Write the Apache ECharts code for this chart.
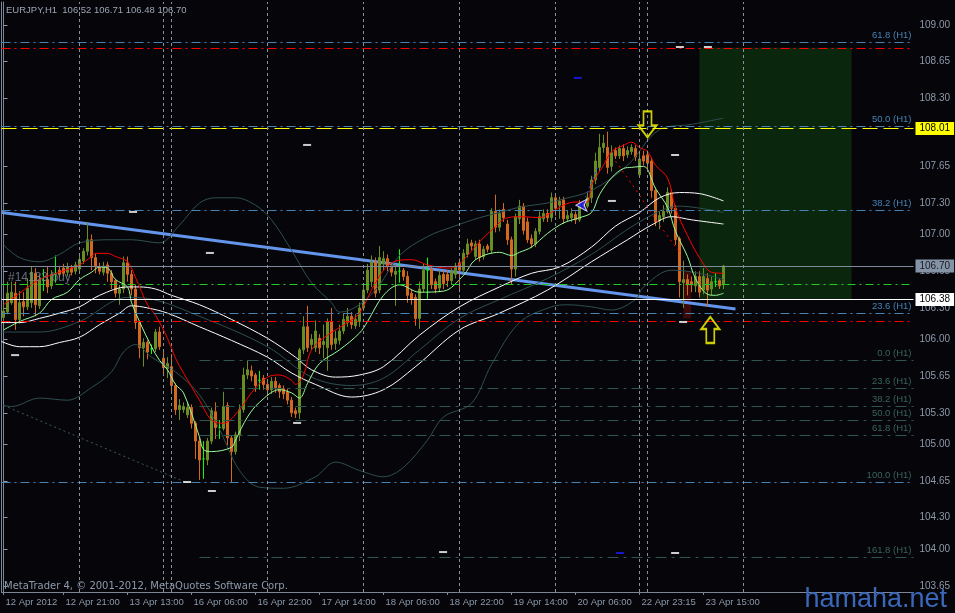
<!DOCTYPE html>
<html><head><meta charset="utf-8">
<script src="https://cdn.jsdelivr.net/npm/echarts@6/dist/echarts.min.js"></script>
<style>html,body{margin:0;padding:0;background:#06060a;}#c{width:955px;height:613px;}</style>
</head><body><div id="c"></div>
<script>
// ---------- DATA ----------
const opens = [106.21,106.26,106.35,106.44,106.19,106.36,106.31,106.35,106.63,106.32,106.56,106.57,106.51,106.63,106.66,106.68,106.64,106.68,106.65,106.67,
106.75,106.84,106.95,106.78,106.69,106.64,106.71,106.63,106.56,106.44,106.48,106.73,106.62,106.48,106.16,105.92,105.97,105.91,105.91,106.07,
105.82,105.72,105.74,105.56,105.33,105.33,105.28,105.35,105.20,105.03,104.86,104.85,105.03,105.31,105.16,105.15,105.37,105.06,104.93,105.09,
105.33,105.66,105.70,105.66,105.61,105.63,105.57,105.52,105.60,105.56,105.53,105.50,105.42,105.32,105.30,105.90,106.12,105.95,105.92,106.01,
105.95,105.92,106.17,105.96,105.99,106.08,106.16,106.22,106.13,106.17,106.30,106.47,106.55,106.74,106.47,106.72,106.77,106.70,106.62,106.65,
106.66,106.60,106.44,106.40,106.20,106.48,106.66,106.67,106.55,106.49,106.62,106.62,106.56,106.62,106.73,106.66,106.81,106.92,106.79,106.91,
106.79,106.89,106.85,107.22,107.07,107.24,107.10,106.95,106.67,107.15,107.27,107.12,106.96,106.91,107.03,107.15,107.20,107.16,107.35,107.28,
107.33,107.15,107.16,107.19,107.14,107.30,107.27,107.35,107.52,107.64,107.83,107.83,107.65,107.80,107.75,107.82,107.76,107.79,107.82,107.57,
107.75,107.76,107.70,107.42,107.13,107.17,107.22,107.40,107.25,106.96,106.54,106.57,106.55,106.51,106.60,106.47,106.58,106.48,106.55,106.56,
106.52];
const closes = [106.27,106.44,106.45,106.19,106.35,106.31,106.49,106.64,106.33,106.57,106.56,106.50,106.62,106.63,106.62,106.63,106.69,106.64,106.71,106.76,
106.84,106.95,106.78,106.69,106.65,106.70,106.63,106.55,106.44,106.48,106.73,106.62,106.48,106.16,105.92,105.97,105.88,105.91,106.07,105.93,
105.73,105.77,105.56,105.33,105.37,105.36,105.35,105.20,105.03,104.85,104.86,105.03,105.32,105.16,105.16,105.36,105.06,104.93,105.09,105.33,
105.66,105.71,105.65,105.56,105.61,105.57,105.52,105.60,105.54,105.50,105.48,105.42,105.30,105.29,105.90,106.12,105.92,106.00,106.08,105.92,
105.98,106.17,105.95,106.01,106.08,106.19,106.22,106.14,106.19,106.30,106.47,106.66,106.74,106.44,106.78,106.77,106.70,106.64,106.65,106.65,
106.60,106.42,106.38,106.20,106.48,106.66,106.66,106.52,106.48,106.61,106.53,106.56,106.65,106.70,106.66,106.82,106.91,106.89,106.91,106.78,
106.86,106.86,107.22,107.07,107.20,107.16,106.95,106.67,107.17,107.27,107.04,106.95,106.91,107.03,107.17,107.20,107.16,107.35,107.25,107.32,
107.15,107.18,107.20,107.14,107.30,107.27,107.35,107.52,107.70,107.83,107.87,107.64,107.78,107.75,107.82,107.75,107.80,107.83,107.74,107.72,
107.70,107.68,107.42,107.12,107.18,107.22,107.40,107.25,106.95,106.55,106.57,106.52,106.52,106.60,106.45,106.60,106.47,106.55,106.55,106.51,
106.70];
const lows = [106.16,106.24,106.33,106.09,106.15,106.22,106.28,106.30,106.22,106.29,106.46,106.44,106.48,106.54,106.59,106.60,106.60,106.61,106.62,106.64,
106.72,106.80,106.66,106.63,106.62,106.61,106.55,106.48,106.40,106.33,106.44,106.55,106.42,106.10,105.82,105.74,105.81,105.86,105.88,105.90,
105.65,105.63,105.50,105.28,105.23,105.30,105.25,105.15,104.86,104.66,104.67,104.80,105.00,105.05,105.05,105.13,104.99,104.64,104.90,105.03,
105.30,105.62,105.60,105.50,105.52,105.52,105.46,105.48,105.49,105.44,105.43,105.38,105.26,105.25,105.24,105.86,105.88,105.90,105.88,105.86,
105.82,105.70,105.90,105.90,105.95,106.05,106.12,106.10,106.10,106.12,106.27,106.44,106.50,106.40,106.44,106.66,106.65,106.60,106.32,106.54,
106.56,106.35,106.33,106.13,106.10,106.45,106.38,106.48,106.44,106.45,106.48,106.50,106.52,106.58,106.45,106.63,106.78,106.85,106.76,106.74,
106.76,106.83,106.82,107.02,107.03,107.12,106.90,106.52,106.60,107.10,107.00,106.92,106.87,106.88,107.00,107.12,107.12,107.12,107.18,107.15,
107.10,107.12,107.12,107.10,107.12,107.24,107.25,107.30,107.48,107.60,107.78,107.58,107.60,107.72,107.72,107.70,107.73,107.76,107.70,107.55,
107.66,107.62,107.35,107.08,107.05,107.12,107.20,107.20,106.90,106.40,106.30,106.42,106.45,106.45,106.40,106.43,106.31,106.42,106.50,106.48,
106.48];
const highs = [106.32,106.55,106.55,106.55,106.46,106.45,106.58,106.70,106.68,106.62,106.67,106.69,106.66,106.80,106.70,106.72,106.73,106.71,106.74,106.80,
106.87,107.12,107.00,106.82,106.73,106.74,106.74,106.66,106.58,106.52,106.79,106.79,106.66,106.52,106.18,106.01,105.99,105.95,106.10,106.12,
105.88,105.83,105.86,105.58,105.43,105.40,105.40,105.38,105.22,105.06,105.03,105.06,105.35,105.40,105.23,105.50,105.40,105.08,105.12,105.38,
105.73,105.80,105.75,105.68,105.70,105.66,105.60,105.64,105.64,105.58,105.56,105.53,105.45,105.35,105.92,106.22,106.32,106.05,106.18,106.05,
106.14,106.20,106.30,106.08,106.14,106.25,106.30,106.26,106.24,106.35,106.52,106.72,106.80,106.78,106.89,106.84,106.81,106.72,106.72,106.86,
106.68,106.65,106.48,106.43,106.55,106.72,106.78,106.70,106.58,106.66,106.66,106.66,106.68,106.73,106.77,106.86,106.96,106.95,106.94,106.95,
106.89,106.91,107.25,107.38,107.24,107.30,107.14,106.98,107.20,107.33,107.30,107.16,107.00,107.06,107.22,107.24,107.24,107.40,107.38,107.36,
107.36,107.23,107.25,107.22,107.33,107.32,107.40,107.56,107.78,107.96,107.95,107.98,107.85,107.83,107.85,107.86,107.84,107.86,107.85,107.78,
107.80,107.80,107.73,107.45,107.22,107.28,107.45,107.43,107.28,106.98,106.75,106.62,106.60,106.65,106.65,106.68,106.63,106.60,106.63,106.58,
106.71];

const slotCount = 228;
const timeTickIndex = [0,15,31,47,63,79,95,111,127,143,159,175];
const timeTickText = ['12 Apr 2012','12 Apr 21:00','13 Apr 13:00','16 Apr 06:00','16 Apr 22:00','17 Apr 14:00','18 Apr 06:00','18 Apr 22:00','19 Apr 14:00','20 Apr 06:00','22 Apr 23:15','23 Apr 15:00'];
const priceTicks = [109.00,108.65,108.30,107.65,107.30,107.00,106.65,106.30,106.00,105.65,105.30,105.00,104.65,104.30,104.00,103.65];
const priceMin = 103.591, priceMax = 109.217;

const fastMA = [[0,106.09],[4,106.17],[9,106.25],[12,106.38],[16,106.45],[19,106.57],[22,106.64],[24,106.69],[26,106.68],[28,106.57],[31,106.50],[32,106.35],[34,106.17],[37,105.93],[39,105.80],[41,105.71],[43,105.57],[45,105.49],[49,105.07],[50,104.95],[52,104.93],[57,104.97],[58,105.04],[61,105.26],[64,105.40],[69,105.52],[72,105.49],[74,105.44],[76,105.58],[79,105.77],[84,105.90],[89,106.06],[91,106.17],[95,106.42],[99,106.52],[104,106.45],[110,106.46],[115,106.61],[118,106.76],[124,106.83],[127,106.80],[129,106.83],[132,106.88],[136,107.01],[140,107.11],[144,107.16],[147,107.21],[149,107.38],[152,107.54],[155,107.63],[157,107.64],[160,107.65],[163,107.44],[166,107.26],[168,107.03],[171,106.79],[173,106.58],[176,106.43],[178,106.42],[180,106.44]];
const slowMA = [[0,106.33],[4,106.44],[9,106.57],[14,106.64],[19,106.71],[22,106.79],[23,106.82],[26,106.82],[28,106.79],[31,106.74],[33,106.59],[36,106.33],[38,106.23],[41,106.01],[43,105.82],[45,105.68],[49,105.42],[52,105.23],[55,105.20],[59,105.33],[62,105.49],[66,105.64],[69,105.66],[72,105.61],[73,105.57],[75,105.66],[77,105.90],[81,106.04],[86,106.16],[89,106.25],[93,106.54],[97,106.73],[102,106.76],[106,106.71],[111,106.68],[113,106.69],[116,106.80],[119,106.93],[122,107.04],[126,107.16],[130,107.17],[134,107.16],[137,107.21],[140,107.28],[143,107.31],[146,107.31],[147,107.47],[150,107.66],[152,107.79],[155,107.85],[157,107.88],[159,107.83],[161,107.79],[163,107.66],[166,107.54],[168,107.25],[171,106.99],[174,106.78],[177,106.64],[180,106.63]];
const envUpper = [[-0.5,106.16],[4,106.16],[9,106.20],[14,106.25],[19,106.31],[24,106.42],[31,106.50],[34,106.50],[38,106.48],[42,106.42],[49,106.33],[57,106.19],[66,106.01],[73,105.83],[77,105.71],[83,105.64],[89,105.66],[95,105.74],[104,106.04],[114,106.31],[124,106.50],[132,106.63],[139,106.69],[147,106.88],[153,107.08],[159,107.21],[164,107.35],[169,107.40],[174,107.39],[180,107.32]];
const envLower = [[-0.5,105.98],[4,105.93],[9,105.93],[14,105.97],[19,106.02],[24,106.14],[29,106.25],[32,106.32],[36,106.30],[41,106.25],[49,106.12],[57,105.99],[66,105.83],[72,105.68],[78,105.57],[87,105.45],[95,105.52],[103,105.74],[114,106.09],[124,106.25],[136,106.47],[147,106.74],[156,106.95],[162,107.09],[167,107.17],[172,107.14],[180,107.10]];
const envMiddle = [[-0.5,106.07],[9,106.07],[19,106.17],[31,106.40],[36,106.39],[49,106.22],[66,105.93],[77,105.64],[87,105.56],[95,105.63],[104,105.90],[114,106.20],[124,106.38],[136,106.58],[147,106.81],[159,107.12],[169,107.27],[180,107.21]];
const bandUpper = [[0,106.90],[4,106.78],[9,106.74],[14,106.81],[19,106.92],[27,106.95],[32,106.95],[39,106.92],[44,107.09],[49,107.30],[53,107.35],[58,107.35],[63,107.28],[67,107.14],[72,106.85],[77,106.54],[82,106.35],[84,106.26],[89,106.33],[94,106.52],[99,106.80],[106,106.98],[112,107.07],[119,107.16],[124,107.21],[129,107.26],[136,107.30],[139,107.33],[147,107.42],[156,107.66],[164,108.00],[172,108.05],[180,108.11]];
const bandLower = [[0,105.37],[2,105.36],[9,105.44],[16,105.42],[22,105.54],[27,105.69],[30,105.88],[33,105.95],[37,105.83],[43,105.69],[49,105.47],[54,105.14],[59,104.75],[64,104.59],[70,104.58],[78,104.69],[83,104.83],[89,104.75],[95,104.69],[100,104.78],[106,105.04],[110,105.26],[117,105.39],[122,105.76],[129,106.16],[137,106.31],[141,106.33],[147,106.31],[152,106.28],[158,106.38],[160,106.50],[167,106.66],[174,106.63],[180,106.57]];
const redDotted = [[153,107.70],[158,107.43],[164,107.09],[169,106.83]];
const blueDotted = [[145,107.31],[148.5,107.64]];

const trendLine = [[-0.4,107.21],[183,106.29]];
const grayDotted = [[0,105.37],[46,104.63]];
const separators = [19,40,42,66,90,114,138,159,161,185];

const blueFibValues = [108.833,108.035,107.234,106.245];
const blueFibText = ['61.8 (H1)','50.0 (H1)','38.2 (H1)','23.6 (H1)'];
const tealFibValues = [105.803,105.536,105.365,105.225,105.088,103.925];
const tealFibText = ['0.0 (H1)','23.6 (H1)','38.2 (H1)','50.0 (H1)','61.8 (H1)','161.8 (H1)'];
const tealFibStart = 49;
const fib100Value = 104.637;
const redLevels = [108.776,106.171];
const greenLevel = 106.525;
const bidLevel = 106.70;
const whiteLevel = 106.38;
const yellowLevel = 108.01;

const greenRect = [174,108.78,212,106.38];
const darkRedRect = [169.9,106.65,171.9,106.20];
const arrowDown = [161,108.05];
const arrowUp = [176.7,106.09];
const blueArrow = [143.1,107.28];
const whiteMarks = [[2.9,105.85],[32.4,107.215],[51.6,106.824],[75.9,107.854],[73.4,105.203],[52.1,104.554],[45.9,104.64],[109.9,103.972],[152.1,107.32],[167.9,107.758],[169.1,108.788],[176.1,108.788],[167.9,103.963],[169.9,106.166]];
const blueMarks = [[143.6,108.493],[154.1,103.963]];
const orderLabel = [0,106.585];

// ---------- CHART ----------
const FONT = "'Liberation Sans',Arial,sans-serif";
const FS = 9.5;
const AXC = '#8d99aa';
const FRAME = '#7b8797';
const categories = Array.from({length: slotCount}, (_, i) => String(i));
const tickSet = new Set(timeTickIndex);
const candleData = opens.map((o, i) => {
  const it = {value: [o, closes[i], lows[i], highs[i]]};
  if (o === closes[i]) it.itemStyle = {color: '#00ff00', borderColor: '#00ff00'};
  return it;
});
const DD = [9,4,2,4];
const mk = [];
blueFibValues.forEach((v, k) => mk.push({yAxis: v, lineStyle: {color: '#4682b4', type: DD, width: 1},
  label: {show: true, position: 'insideEndTop', formatter: blueFibText[k], color: '#4682b4', fontSize: FS, fontFamily: FONT, distance: 2}}));
tealFibValues.forEach((v, k) => mk.push([{coord: [tealFibStart, v], lineStyle: {color: '#2f5550', type: [11,5,3,5], width: 1},
  label: {show: true, position: 'insideEndTop', formatter: tealFibText[k], color: '#3a645c', fontSize: FS, fontFamily: FONT, distance: 2}}, {coord: [227.5, v]}]));
mk.push({yAxis: fib100Value, lineStyle: {color: '#4682b4', type: DD, width: 1},
  label: {show: true, position: 'insideEndTop', formatter: '100.0 (H1)', color: '#3a645c', fontSize: FS, fontFamily: FONT, distance: 2}});
redLevels.forEach(v => mk.push({yAxis: v, lineStyle: {color: '#ff0000', type: DD, width: 1}, label: {show: false}}));
mk.push({yAxis: greenLevel, lineStyle: {color: '#22cc22', type: [8,4,2,4], width: 1}, label: {show: false}});
mk.push({yAxis: bidLevel, lineStyle: {color: '#7f8b9b', type: 'solid', width: 1},
  label: {show: true, position: 'end', formatter: bidLevel.toFixed(2), backgroundColor: '#8494a6', color: '#1a1a22', padding: [2,4,1,4], fontSize: 10, fontFamily: FONT, distance: 2}});
mk.push({yAxis: whiteLevel, lineStyle: {color: '#ffffff', type: 'solid', width: 1},
  label: {show: true, position: 'end', formatter: whiteLevel.toFixed(2), backgroundColor: '#ffffff', color: '#000', padding: [2,4,1,4], fontSize: 10, fontFamily: FONT, distance: 2}});
mk.push({yAxis: yellowLevel, lineStyle: {color: '#ffff00', type: [15,6], width: 1},
  label: {show: true, position: 'end', formatter: yellowLevel.toFixed(2), backgroundColor: '#ffff00', color: '#000', padding: [2,4,1,4], fontSize: 10, fontFamily: FONT, distance: 2}});
separators.forEach(x => mk.push({xAxis: x, lineStyle: {color: '#8a8f99', type: [3,3], width: 1}, label: {show: false}}));

function lineS(data, color, extra) {
  return Object.assign({type: 'line', xAxisIndex: 1, yAxisIndex: 0, data, showSymbol: false, symbol: 'none', smooth: 0.35,
    silent: true, z: 4, lineStyle: {color, width: 1}}, extra || {});
}

const chart = echarts.init(document.getElementById('c'), null, {renderer: 'canvas'});
chart.setOption({
  animation: false,
  backgroundColor: '#06060a',
  title: [
    {text: 'EURJPY,H1  106.52 106.71 106.48 106.70', left: 6, top: 5, padding: 0, textStyle: {color: '#9aa4b4', fontSize: FS, fontWeight: 'normal', fontFamily: FONT}},
    {text: 'MetaTrader 4, © 2001-2012, MetaQuotes Software Corp.', left: 4, top: 581, padding: 0, textStyle: {color: AXC, fontSize: 10, fontWeight: 'normal', fontFamily: "'DejaVu Sans',sans-serif"}},
    {text: 'hamaha.net', right: 8, top: 586, padding: 0, textStyle: {color: '#3b67b8', fontSize: 27, fontWeight: 'normal', fontFamily: FONT}}
  ],
  grid: {left: 1.5, top: 2, width: 912, height: 590, containLabel: false},
  xAxis: [
    {type: 'category', data: categories, boundaryGap: true,
      axisLine: {show: true, lineStyle: {color: FRAME}},
      axisTick: {show: true, interval: (i) => tickSet.has(i), alignWithLabel: true, length: 3, lineStyle: {color: FRAME}},
      axisLabel: {interval: (i) => tickSet.has(i), formatter: (v) => timeTickText[timeTickIndex.indexOf(Number(v))] || '',
        align: 'left', padding: [0,0,0,2], color: AXC, fontSize: FS, fontFamily: FONT, margin: 5, showMinLabel: true},
      splitLine: {show: false}},
    {type: 'value', min: -0.5, max: 227.5, show: false}
  ],
  yAxis: [
    {type: 'value', position: 'right', min: priceMin, max: priceMax, scale: true,
      axisLine: {show: true, lineStyle: {color: FRAME}},
      axisTick: {show: true, customValues: priceTicks, length: 4, lineStyle: {color: AXC}},
      axisLabel: {customValues: priceTicks, formatter: v => v.toFixed(2), color: AXC, fontSize: 10, fontFamily: FONT, margin: 6},
      splitLine: {show: false}},
    {type: 'value', position: 'left', min: priceMin, max: priceMax,
      axisLine: {show: true, lineStyle: {color: FRAME}}, axisTick: {show: false}, axisLabel: {show: false}, splitLine: {show: false}}
  ],
  series: [
    {type: 'line', name: 'levels', xAxisIndex: 1, yAxisIndex: 0, data: [[-0.5, whiteLevel]], symbol: 'none', lineStyle: {width: 0},
      silent: true, clip: false, z: 1,
      markArea: {silent: true, data: [
        [{coord: [greenRect[0], greenRect[1]], itemStyle: {color: '#0a260d'}}, {coord: [greenRect[2], greenRect[3]]}],
        [{coord: [darkRedRect[0], darkRedRect[1]], itemStyle: {color: '#3c0808'}}, {coord: [darkRedRect[2], darkRedRect[3]]}]
      ]},
      markLine: {silent: true, symbol: ['none','none'], animation: false, data: mk}},
    lineS(trendLine, '#6495ed', {smooth: false, z: 2, lineStyle: {color: '#6495ed', width: 3}}),
    lineS(grayDotted, '#2f4f4f', {smooth: false, z: 2, lineStyle: {color: '#3a5a5a', width: 1, type: [2,3]}}),
    {type: 'candlestick', xAxisIndex: 0, yAxisIndex: 0, data: candleData, barWidth: 3, silent: true, z: 3,
      itemStyle: {color: '#6b8e23', color0: '#d2691e', borderColor: '#6b8e23', borderColor0: '#d2691e', borderWidth: 1}},
    {type: 'scatter', xAxisIndex: 1, yAxisIndex: 0, data: [orderLabel], symbol: 'circle', symbolSize: 1,
      itemStyle: {color: 'rgba(0,0,0,0)'}, silent: true, z: 5,
      label: {show: true, position: 'right', distance: 4, formatter: '#14133 buy', color: '#7c8797', fontSize: 12, fontFamily: FONT}},
    lineS(bandUpper, '#2f4f4f'),
    lineS(bandLower, '#2f4f4f'),
    lineS(envMiddle, '#2f4f4f'),
    lineS(envUpper, '#ffffff'),
    lineS(envLower, '#ffffff'),
    lineS(slowMA, '#ff0000'),
    lineS(fastMA, '#98fb98'),
    lineS(redDotted, '#ff0000', {smooth: false, lineStyle: {color: '#ff0000', width: 1, type: [2,4]}}),
    lineS(blueDotted, '#2040ff', {smooth: false, lineStyle: {color: '#2040ff', width: 1, type: [2,3]}}),
    {type: 'scatter', xAxisIndex: 1, yAxisIndex: 0, data: whiteMarks, symbol: 'rect', symbolSize: [8,2], itemStyle: {color: '#ffffff'}, silent: true, z: 6},
    {type: 'scatter', xAxisIndex: 1, yAxisIndex: 0, data: blueMarks, symbol: 'rect', symbolSize: [8,2], itemStyle: {color: '#1a1aff'}, silent: true, z: 6},
    {type: 'scatter', xAxisIndex: 1, yAxisIndex: 0, data: [blueArrow], symbol: 'arrow', symbolRotate: 90, symbolSize: [9,11],
      itemStyle: {color: '#1a1aff', borderColor: '#ffffff', borderWidth: 1}, silent: true, z: 6},
    {type: 'scatter', xAxisIndex: 1, yAxisIndex: 0, data: [arrowDown], symbol: 'path://M5,0 L13,0 L13,14 L18,14 L9,26 L0,14 L5,14 Z',
      symbolSize: [18,26], itemStyle: {color: 'rgba(0,0,0,0)', borderColor: '#ffff00', borderWidth: 2}, silent: true, z: 10},
    {type: 'scatter', xAxisIndex: 1, yAxisIndex: 0, data: [arrowUp], symbol: 'path://M9,0 L18,12 L13,12 L13,26 L5,26 L5,12 L0,12 Z',
      symbolSize: [18,26], itemStyle: {color: 'rgba(0,0,0,0)', borderColor: '#ffff00', borderWidth: 2}, silent: true, z: 10}
  ]
});
</script></body></html>
